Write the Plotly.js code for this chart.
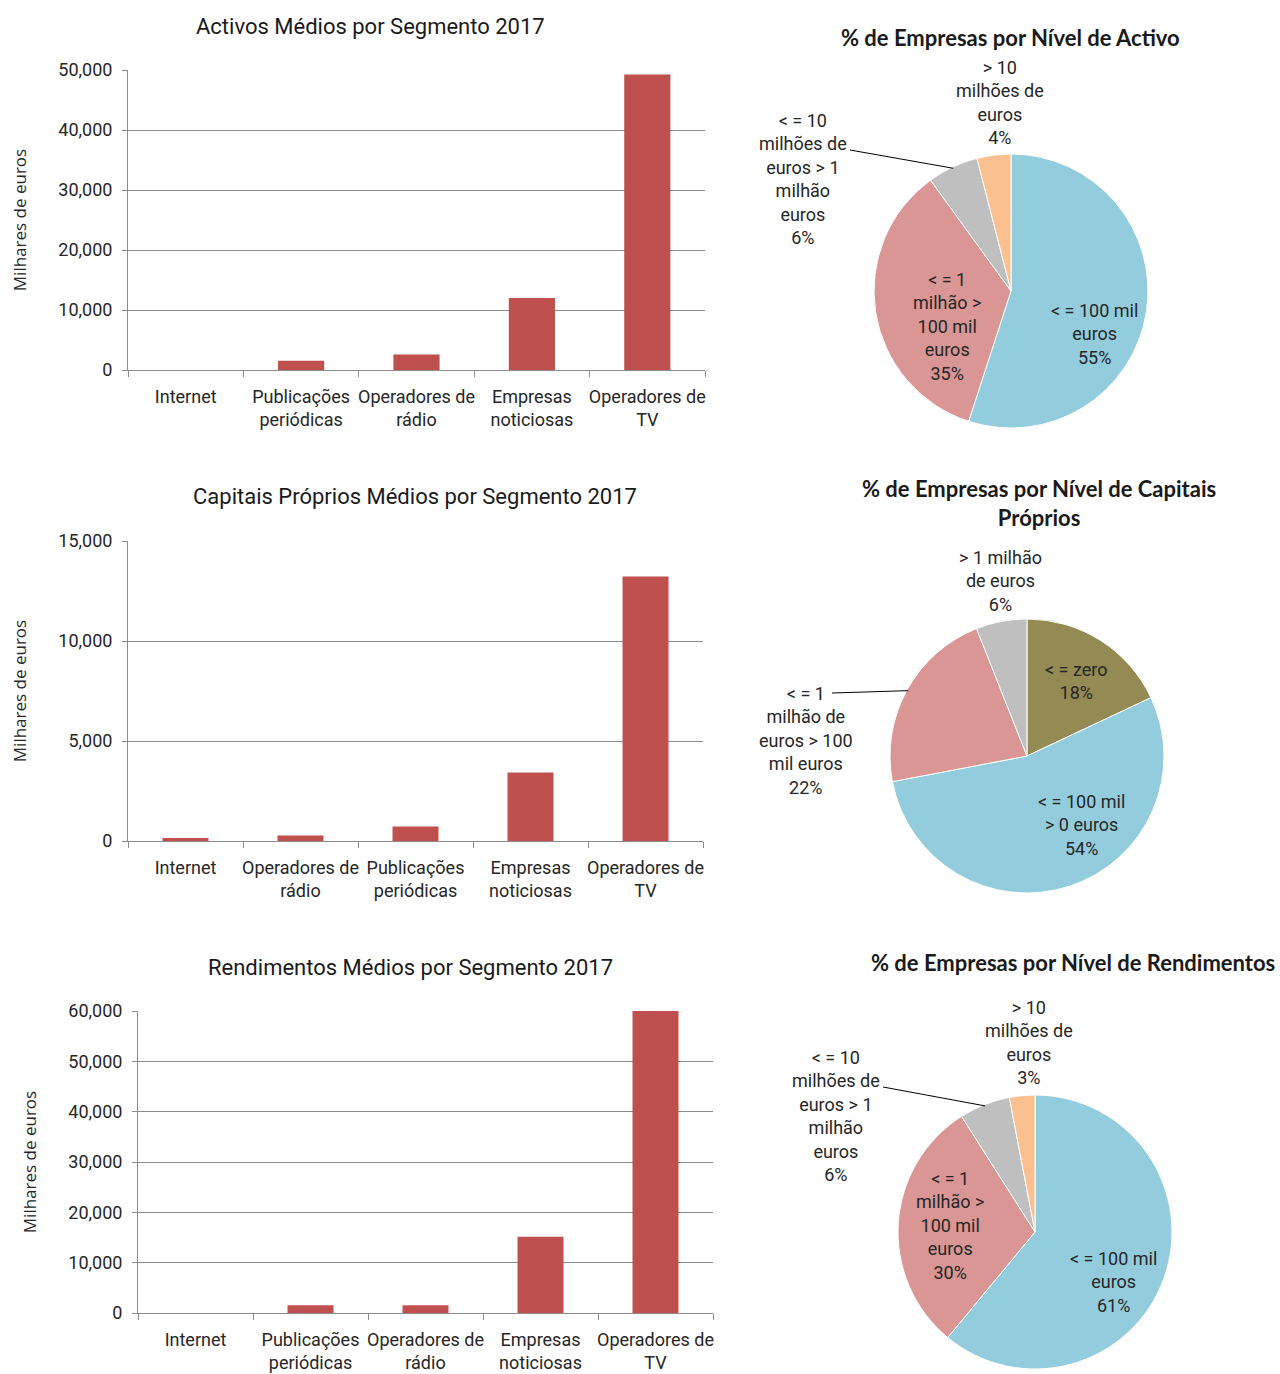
<!DOCTYPE html>
<html><head><meta charset="utf-8">
<script src="https://cdn.plot.ly/plotly-3.0.1.min.js"></script>
<style>body{margin:0;background:#fff}#chart{width:1280px;height:1374px}</style>
</head><body><div id="chart"></div>
<script>
// ---- Bar data ----
const activosCats = ['Internet','Publicações periódicas','Operadores de rádio','Empresas noticiosas','Operadores de TV'];
const activosTicks = ['Internet','Publicações<br>periódicas','Operadores de<br>rádio','Empresas<br>noticiosas','Operadores de<br>TV'];
const activosValues = [20, 1550, 2600, 12000, 49250];

const capitaisCats = ['Internet','Operadores de rádio','Publicações periódicas','Empresas noticiosas','Operadores de TV'];
const capitaisTicks = ['Internet','Operadores de<br>rádio','Publicações<br>periódicas','Empresas<br>noticiosas','Operadores de<br>TV'];
const capitaisValues = [150, 270, 720, 3420, 13230];

const rendCats = ['Internet','Publicações periódicas','Operadores de rádio','Empresas noticiosas','Operadores de TV'];
const rendTicks = ['Internet','Publicações<br>periódicas','Operadores de<br>rádio','Empresas<br>noticiosas','Operadores de<br>TV'];
const rendValues = [20, 1530, 1530, 15130, 60000];

// ---- Pie data ----
const activoLevels = ['<= 100 mil euros','<= 1 milhão > 100 mil euros','<= 10 milhões de euros > 1 milhão euros','> 10 milhões de euros'];
const activoText = ['&lt; = 100 mil<br>euros','&lt; = 1<br>milhão &gt;<br>100 mil<br>euros','&lt; = 10<br>milhões de<br>euros &gt; 1<br>milhão<br>euros','&gt; 10<br>milhões de<br>euros'];
const activoPct = [55, 35, 6, 4];

const capLevels = ['<= zero','<= 100 mil > 0 euros','<= 1 milhão de euros > 100 mil euros','> 1 milhão de euros'];
const capText = ['&lt; = zero','&lt; = 100 mil<br>&gt; 0 euros','&lt; = 1<br>milhão de<br>euros &gt; 100<br>mil euros','&gt; 1 milhão<br>de euros'];
const capPct = [18, 54, 22, 6];

const rendLevels = ['<= 100 mil euros','<= 1 milhão > 100 mil euros','<= 10 milhões de euros > 1 milhão euros','> 10 milhões de euros'];
const rendText = ['&lt; = 100 mil<br>euros','&lt; = 1<br>milhão &gt;<br>100 mil<br>euros','&lt; = 10<br>milhões de<br>euros &gt; 1<br>milhão<br>euros','&gt; 10<br>milhões de<br>euros'];
const rendPct = [61, 30, 6, 3];

// ---- Layout helpers (positions / styles) ----
const W = 1280, H = 1374;
const px = v => v / W, py = v => 1 - v / H;
const BAR = '#C0504D';
const GRID = '#8C8C8C';
const FONT = 'Roboto, "Liberation Sans", sans-serif';
const xTickFont = {family: FONT, size: 18, color: '#262626'};
const yTickFont = {family: FONT, size: 18, color: '#262626'};

function barTrace(cats, vals, n) {
  return {type:'bar', x:cats, y:vals, marker:{color:BAR}, xaxis:'x'+(n>1?n:''), yaxis:'y'+(n>1?n:''),
          hoverinfo:'x+y', showlegend:false};
}
function xAx(dom, cats, ticks, anchor) {
  return {domain:dom, anchor:anchor, type:'category', tickmode:'array', tickvals:cats, ticktext:ticks,
    tickangle:0, showline:true, linecolor:GRID, linewidth:1, ticks:'outside', tickson:'boundaries', ticklen:6, tickcolor:GRID,
    tickfont:xTickFont, ticklabelstandoff:10, showgrid:false, fixedrange:true};
}
function yAx(dom, range, dtick, anchor, standoff) {
  return {domain:dom, anchor:anchor, range:range, dtick:dtick, tickformat:',d',
    showline:true, linecolor:GRID, linewidth:1, ticks:'outside', ticklen:5, tickcolor:GRID,
    showgrid:true, gridcolor:GRID, gridwidth:1, zeroline:false, tickfont:yTickFont, ticklabelstandoff:6,
    title:{text:'Milhares de euros', font:{family:'"Open Sans", sans-serif', size:17, color:'#262626'}, standoff:standoff},
    fixedrange:true};
}

const BLUE='#93CDDD', PINK='#D99694', GREY='#BFBFBF', ORANGE='#FAC090', OLIVE='#948A54';
// pie geometry: centre (px) and radius
const pieGeo = [
  {cx:1011, cy:291, r:137},
  {cx:1027, cy:756, r:137},
  {cx:1035, cy:1232, r:137}
];
function pieTrace(labels, vals, colors, g) {
  return {type:'pie', labels:labels, values:vals, sort:false, direction:'clockwise', rotation:0,
    marker:{colors:colors, line:{color:'#ffffff', width:1}}, textinfo:'none',
    domain:{x:[px(g.cx-g.r),px(g.cx+g.r)], y:[py(g.cy+g.r),py(g.cy-g.r)]}, showlegend:false, hoverinfo:'label+percent'};
}

// label placement for each pie (text block centres) and leader-line starts
const labelPlace = [
  {pos:[[1094,334],[947,326],[803,179],[1000,102]], leader:{slice:2, from:[850,150]}},
  {pos:[[1076,681],[1081,825],[806,740],[1000,581]], leader:{slice:2, from:[832,693]}},
  {pos:[[1113,1282],[950,1225],[836,1116],[1029,1042]], leader:{slice:2, from:[883,1087]}}
];
const pieLabelFont = {family: FONT, size: 18, color: '#262626'};

const annotations = [];
const shapes = [];
function addPieLabels(texts, vals, g, place) {
  const total = vals.reduce((a,b)=>a+b,0);
  let cum = 0;
  vals.forEach((v,i)=>{
    const mid = (cum + v/2) / total * 2*Math.PI; // clockwise from 12 o'clock
    cum += v;
    const p = place.pos[i];
    annotations.push({text: texts[i] + '<br>' + Math.round(100*v/total) + '%', x:px(p[0]), y:py(p[1]),
      xref:'paper', yref:'paper', showarrow:false, font:pieLabelFont, xanchor:'center', yanchor:'middle', align:'center'});
    if (place.leader && place.leader.slice === i) {
      const hx = g.cx + 0.99*g.r*Math.sin(mid), hy = g.cy - 0.99*g.r*Math.cos(mid);
      const f = place.leader.from;
      shapes.push({type:'line', xref:'paper', yref:'paper', x0:px(f[0]), y0:py(f[1]), x1:px(hx), y1:py(hy),
        line:{color:'#000000', width:1}});
    }
  });
}
addPieLabels(activoText, activoPct, pieGeo[0], labelPlace[0]);
addPieLabels(capText, capPct, pieGeo[1], labelPlace[1]);
addPieLabels(rendText, rendPct, pieGeo[2], labelPlace[2]);

const data = [
  barTrace(activosCats, activosValues, 1),
  barTrace(capitaisCats, capitaisValues, 2),
  barTrace(rendCats, rendValues, 3),
  pieTrace(activoLevels, activoPct, [BLUE,PINK,GREY,ORANGE], pieGeo[0]),
  pieTrace(capLevels, capPct, [OLIVE,BLUE,PINK,GREY], pieGeo[1]),
  pieTrace(rendLevels, rendPct, [BLUE,PINK,GREY,ORANGE], pieGeo[2])
];

const titleFont = {family: FONT, size: 22, color: '#1a1a1a'};
const pieTitleFont = {family: '"Lato", sans-serif', size: 22, color: '#1a1a1a', weight: 'bold'};
function ann(text, x, y, font) {
  return {text:text, x:px(x), y:py(y), xref:'paper', yref:'paper', showarrow:false, font:font, xanchor:'center', yanchor:'middle'};
}
annotations.push(
  ann('Activos Médios por Segmento 2017', 370, 27, titleFont),
  ann('Capitais Próprios Médios por Segmento 2017', 415, 497, titleFont),
  ann('Rendimentos Médios por Segmento 2017', 410, 967, titleFont),
  ann('% de Empresas por Nível de Activo', 1010, 38, pieTitleFont),
  ann('% de Empresas por Nível de Capitais<br>Próprios', 1039, 503, pieTitleFont),
  ann('% de Empresas por Nível de Rendimentos', 1073, 962, pieTitleFont)
);

const layout = {
  width:W, height:H, margin:{l:0,r:0,t:0,b:0}, paper_bgcolor:'#ffffff', plot_bgcolor:'#ffffff',
  bargap:0.6, showlegend:false,
  xaxis: xAx([px(128),px(705)], activosCats, activosTicks, 'y'),
  yaxis: yAx([py(370),py(70)], [0,50000], 10000, 'x', 27),
  xaxis2: xAx([px(128),px(703)], capitaisCats, capitaisTicks, 'y2'),
  yaxis2: yAx([py(841),py(541)], [0,15000], 5000, 'x2', 27),
  xaxis3: xAx([px(138),px(713)], rendCats, rendTicks, 'y3'),
  yaxis3: yAx([py(1313),py(1011)], [0,60000], 10000, 'x3', 27),
  annotations: annotations,
  shapes: shapes
};

Plotly.newPlot('chart', data, layout, {displayModeBar:false, staticPlot:true});
</script>
</body></html>
